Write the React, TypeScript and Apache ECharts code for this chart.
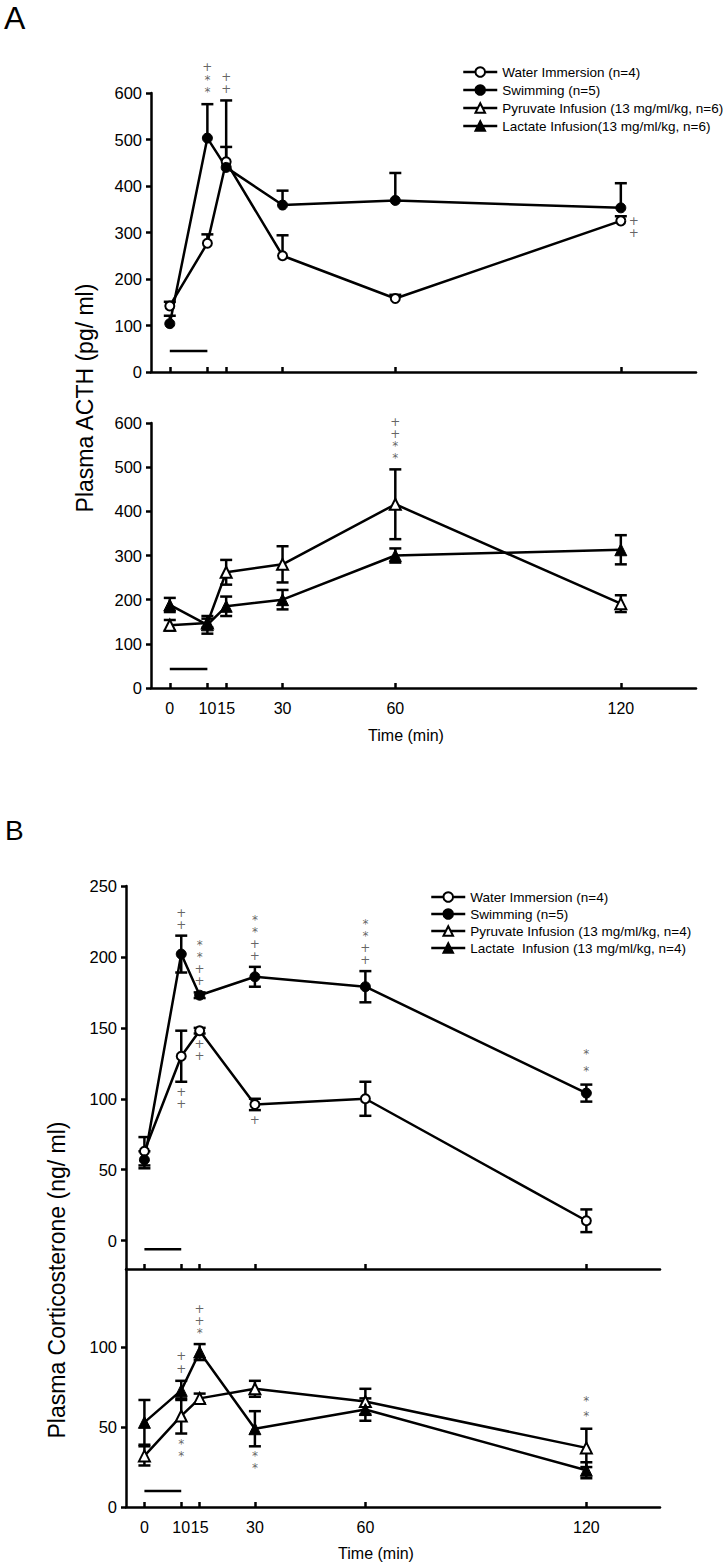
import React, { useEffect, useRef } from "react";
import * as echarts from "echarts";

// ---------- data ----------
const times = [0, 10, 15, 30, 60, 120];
const xTicks = [0, 10, 15, 30, 60, 120];
const yTicksA = [0, 100, 200, 300, 400, 500, 600];
const yTicksBTop = [0, 50, 100, 150, 200, 250];
const yTicksBBottom = [0, 50, 100];

// Panel A (ACTH, pg/ml)
const waterA = [142, 277, 452, 250, 158, 325];
const waterAErr = [9, 19, 32, 44, 8, 10];
const swimA = [104, 503, 440, 359, 369, 353];
const swimAErr = [17, 73, 144, 31, 59, 53];
const pyrA = [142, 147, 262, 280, 416, 191];
const pyrAErr = [12, 10, 28, 41, 79, 19];
const lacA = [188, 143, 185, 200, 300, 313];
const lacAErr = [16, 20, 22, 22, 16, 33];

// Panel B (Corticosterone, ng/ml)
const waterB = [63, 130, 148, 96, 100, 14];
const waterBErr = [10, 18, 2, 4, 12, 8];
const swimB = [57, 202, 173, 186, 179, 104];
const swimBErr = [6, 13, 2, 7, 11, 6];
const pyrB = [32, 57, 68, 74, 66, 37];
const pyrBErr = [6, 11, 3, 5, 8, 12];
const lacB = [53, 73, 97, 49, 61, 23];
const lacBErr = [14, 6, 5, 11, 7, 5];

// stimulus period bar (0-10 min) level in each panel
const stimTimes = [0, 10];
const stimLevels = [45, 43, -6, 10];

// significance marks: [time, anchor value, text, placement, lineHeight]
const annA1: [number, number, string, string, number][] = [
  [10, 577, "+\n*\n*", "above", 12.5],
  [15, 586, "+\n+", "above", 12],
  [120, 325, "+\n+", "right", 12],
];
const annA2: [number, number, string, string, number][] = [
  [60, 495, "+\n+\n*\n*", "above", 12],
];
const annB1: [number, number, string, string, number][] = [
  [10, 215, "+\n+", "above", 12],
  [10, 112, "+\n+", "below", 12],
  [15, 175, "*\n*\n+\n+", "above", 12],
  [15, 146, "+\n+", "below", 12],
  [30, 193, "*\n*\n+\n+", "above", 12],
  [30, 92, "+", "below", 12],
  [60, 190, "*\n*\n+\n+", "above", 12],
  [120, 110, "*\n*", "above", 17],
];
const annB2: [number, number, string, string, number][] = [
  [10, 79, "+\n+", "above", 13],
  [10, 46, "*\n*", "below", 12],
  [15, 102, "+\n+\n*", "above", 12],
  [30, 38, "*\n*", "below", 12],
  [120, 49, "*\n*", "above", 15],
];

const legendA = [
  "Water Immersion (n=4)",
  "Swimming (n=5)",
  "Pyruvate Infusion (13 mg/ml/kg, n=6)",
  "Lactate Infusion(13 mg/ml/kg, n=6)",
];
const legendB = [
  "Water Immersion (n=4)",
  "Swimming (n=5)",
  "Pyruvate Infusion (13 mg/ml/kg, n=4)",
  "Lactate  Infusion (13 mg/ml/kg, n=4)",
];

const FONT = "'Liberation Sans', Arial, sans-serif";
const LW = 2.5;

function lineSeries(name: string, gi: number, vals: number[], symbol: string, open: boolean, size: number) {
  return {
    type: "line",
    name,
    xAxisIndex: gi,
    yAxisIndex: gi,
    data: times.map((t, i) => [t, vals[i]]),
    symbol,
    symbolSize: size,
    showSymbol: true,
    z: 3,
    lineStyle: { color: "#000", width: LW },
    itemStyle: open
      ? { color: "#fff", borderColor: "#000", borderWidth: 2 }
      : { color: "#000", borderColor: "#000", borderWidth: 1 },
  };
}

function errSeries(gi: number, vals: number[], errs: number[], oneSided: boolean) {
  return {
    type: "custom",
    xAxisIndex: gi,
    yAxisIndex: gi,
    silent: true,
    z: 1,
    data: times.map((t, i) => [t, vals[i], oneSided ? vals[i] : vals[i] - errs[i], vals[i] + errs[i]]),
    encode: { x: 0, y: [1, 2, 3] },
    renderItem: (params: any, api: any) => {
      const x = api.value(0);
      const m = api.value(1);
      const lo = api.value(2);
      const hi = api.value(3);
      const pl = api.coord([x, lo]);
      const ph = api.coord([x, hi]);
      const w = 6;
      const st = { stroke: "#000", lineWidth: LW };
      const children: any[] = [
        { type: "line", shape: { x1: pl[0], y1: pl[1], x2: ph[0], y2: ph[1] }, style: st },
      ];
      if (hi !== m) children.push({ type: "line", shape: { x1: ph[0] - w, y1: ph[1], x2: ph[0] + w, y2: ph[1] }, style: st });
      if (lo !== m) children.push({ type: "line", shape: { x1: pl[0] - w, y1: pl[1], x2: pl[0] + w, y2: pl[1] }, style: st });
      return { type: "group", children };
    },
  };
}

function stimSeries(gi: number) {
  return {
    type: "line",
    xAxisIndex: gi,
    yAxisIndex: gi,
    silent: true,
    symbol: "none",
    z: 2,
    lineStyle: { color: "#000", width: LW },
    data: stimTimes.map((t) => [t, stimLevels[gi]]),
  };
}

function annSeries(gi: number, anns: [number, number, string, string, number][]) {
  return {
    type: "scatter",
    xAxisIndex: gi,
    yAxisIndex: gi,
    silent: true,
    symbolSize: 0,
    z: 4,
    data: anns.map(([x, y, text, place, lh]) => ({
      value: [x, y],
      label: {
        show: true,
        formatter: text,
        position: place === "above" ? "top" : place === "below" ? "bottom" : "right",
        distance: place === "above" ? 5 : place === "below" ? 4 : 8,
        offset: place === "right" ? [0, 6] : [0, 0],
        lineHeight: lh,
        fontSize: 12,
        color: "#3c3c3c",
        fontFamily: "'DejaVu Sans', sans-serif",
        align: place === "right" ? "left" : "center",
      },
    })),
  };
}

function xAxis(gi: number, showLabels: boolean) {
  return {
    type: "value",
    gridIndex: gi,
    min: -5,
    max: 140,
    axisLine: { onZero: false, lineStyle: { color: "#000", width: LW } },
    axisTick: { inside: true, length: 5, customValues: xTicks, lineStyle: { color: "#000", width: LW } },
    axisLabel: {
      show: showLabels,
      customValues: xTicks,
      margin: 12,
      fontSize: 16,
      color: "#000",
      fontFamily: FONT,
    },
    splitLine: { show: false },
  };
}

function yAxis(gi: number, min: number, max: number, ticks: number[]) {
  return {
    type: "value",
    gridIndex: gi,
    min,
    max,
    axisLine: { show: true, onZero: false, lineStyle: { color: "#000", width: LW } },
    axisTick: { show: true, inside: false, length: 5, customValues: ticks, lineStyle: { color: "#000", width: LW } },
    axisLabel: { customValues: ticks, margin: 9, fontSize: 16.5, color: "#000", fontFamily: FONT },
    splitLine: { show: false },
  };
}

export default function App() {
  const ref = useRef<HTMLDivElement>(null);
  useEffect(() => {
    document.body.style.margin = "0";
    const chart = echarts.init(ref.current!, null, { renderer: "svg" });
    const legendCommon = {
      orient: "vertical",
      itemWidth: 34,
      itemHeight: 12,
      selectedMode: false,
      lineStyle: { width: LW, color: "#000" },
      textStyle: { fontSize: 13.5, fontFamily: FONT, color: "#000", lineHeight: 14 },
    };
    chart.setOption({
      animation: false,
      backgroundColor: "#fff",
      grid: [
        { left: 151, top: 93, width: 545, height: 279 },
        { left: 151, top: 423, width: 545, height: 265 },
        { left: 126, top: 886, width: 534, height: 383 },
        { left: 126, top: 1269, width: 534, height: 238 },
      ],
      xAxis: [xAxis(0, false), xAxis(1, true), xAxis(2, false), xAxis(3, true)],
      yAxis: [
        yAxis(0, 0, 600, yTicksA),
        yAxis(1, 0, 600, yTicksA),
        yAxis(2, -20, 250, yTicksBTop),
        yAxis(3, 0, 149, yTicksBBottom),
      ],
      legend: [
        { ...legendCommon, left: 457, top: 60, itemGap: 4, data: legendA },
        { ...legendCommon, left: 425, top: 885, itemGap: 3, data: legendB },
      ],
      graphic: [
        { type: "text", left: 4, top: 2, style: { text: "A", font: `32px ${FONT}`, fill: "#000" } },
        { type: "text", left: 5, top: 816, style: { text: "B", font: `28px ${FONT}`, fill: "#000" } },
        {
          type: "text",
          x: 85,
          y: 398,
          rotation: Math.PI / 2,
          style: { text: "Plasma ACTH (pg/ ml)", font: `23px ${FONT}`, fill: "#000", align: "center", verticalAlign: "middle" },
        },
        {
          type: "text",
          x: 57,
          y: 1280,
          rotation: Math.PI / 2,
          style: { text: "Plasma Corticosterone (ng/ ml)", font: `23px ${FONT}`, fill: "#000", align: "center", verticalAlign: "middle" },
        },
        {
          type: "text",
          x: 406,
          y: 735,
          style: { text: "Time (min)", font: `16px ${FONT}`, fill: "#000", align: "center", verticalAlign: "middle" },
        },
        {
          type: "text",
          x: 376,
          y: 1553,
          style: { text: "Time (min)", font: `16px ${FONT}`, fill: "#000", align: "center", verticalAlign: "middle" },
        },
      ],
      series: [
        // Panel A top
        errSeries(0, waterA, waterAErr, true),
        errSeries(0, swimA, swimAErr, true),
        lineSeries(legendA[0], 0, waterA, "circle", true, 9),
        lineSeries(legendA[1], 0, swimA, "circle", false, 10),
        stimSeries(0),
        annSeries(0, annA1),
        // Panel A bottom
        errSeries(1, pyrA, pyrAErr, false),
        errSeries(1, lacA, lacAErr, false),
        lineSeries(legendA[2], 1, pyrA, "triangle", true, 11),
        lineSeries(legendA[3], 1, lacA, "triangle", false, 12),
        stimSeries(1),
        annSeries(1, annA2),
        // Panel B top
        errSeries(2, waterB, waterBErr, false),
        errSeries(2, swimB, swimBErr, false),
        lineSeries(legendB[0], 2, waterB, "circle", true, 9),
        lineSeries(legendB[1], 2, swimB, "circle", false, 10),
        stimSeries(2),
        annSeries(2, annB1),
        // Panel B bottom
        errSeries(3, pyrB, pyrBErr, false),
        errSeries(3, lacB, lacBErr, false),
        lineSeries(legendB[2], 3, pyrB, "triangle", true, 11),
        lineSeries(legendB[3], 3, lacB, "triangle", false, 12),
        stimSeries(3),
        annSeries(3, annB2),
      ],
    });
    return () => chart.dispose();
  }, []);
  return <div ref={ref} style={{ width: 726, height: 1567 }} />;
}
